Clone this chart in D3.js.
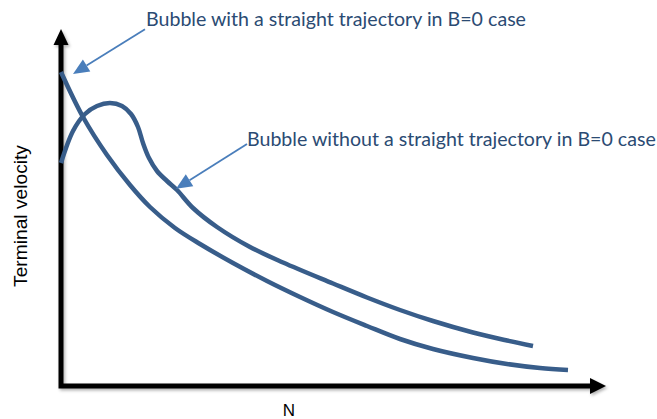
<!DOCTYPE html>
<html>
<head>
<meta charset="utf-8">
<script src="https://cdn.jsdelivr.net/npm/d3@7/dist/d3.min.js"></script>
<style>
  html, body { margin: 0; padding: 0; background: #fff; }
  svg { display: block; }
</style>
</head>
<body>
<svg id="chart" width="657" height="419"></svg>
<script>
// ---- Data (N in arbitrary units, terminal velocity in arbitrary units) ----
const straightN = [0, 4.4, 9.2, 13.8, 17.8, 22.8, 27.8, 34.4, 41.2, 47.8, 54.4, 61.2, 67.8, 74.4, 82.4, 89.2, 95.8, 101.4];
const straightV = [78.5, 67.25, 57.75, 50.25, 44.75, 39.5, 35.5, 30.75, 26.25, 22.25, 18.5, 15, 11.75, 9.25, 7, 5.5, 4.5, 4];

const curvedN = [0, 2.4, 4.8, 7.2, 9.8, 12.2, 14, 15.4, 16.4, 17.6, 19.2, 21.2, 23.2, 26.4, 31.2, 37.8, 44.4, 54.4, 61.2, 67.8, 74.4, 82.4, 89.2, 94.4];
const curvedV = [55.75, 63.75, 68, 70, 70.75, 70, 68, 64.75, 60.75, 57, 53.75, 51.25, 49, 44.5, 39.75, 34.75, 30.875, 25.625, 22.125, 19, 16.25, 13.375, 11.375, 10];

const xLabel = "N";
const yLabel = "Terminal velocity";
const annotationTexts = ["Bubble with a straight trajectory in B=0 case",
                         "Bubble without a straight trajectory in B=0 case"];
// annotation anchor points in data units: [textN, textV, arrowStartN, arrowStartV, tipN, tipV]
const annotationAnchors = [[17, 90, 16.8, 89.2, 2.4, 78],
                           [37.2, 60.1, 37.2, 60.5, 23, 49.3]];
const annotationWidths = [380, 409];

// ---- Layout ----
const svg = d3.select("#chart");
const x = d3.scaleLinear().domain([0, 109]).range([61, 606]);
const y = d3.scaleLinear().domain([0, 89]).range([386, 30]);

const curveColor = "#385d8a";
const arrowColor = "#4a7ebb";
const textColor = "#2b4b73";

const defs = svg.append("defs");
const f = defs.append("filter").attr("id", "shadow")
  .attr("x", "-10%").attr("y", "-10%").attr("width", "130%").attr("height", "130%");
f.append("feDropShadow").attr("dx", 1.5).attr("dy", 2).attr("stdDeviation", 1.6)
  .attr("flood-color", "#000").attr("flood-opacity", 0.3);

// ---- Axes with arrowheads ----
const axes = svg.append("g").attr("filter", "url(#shadow)");
const x0 = x(0), y0 = y(0), xEnd = x(109), yEnd = y(89);
axes.append("path")
  .attr("d", `M${x0},${yEnd + 14} L${x0},${y0} L${xEnd - 15},${y0}`)
  .attr("fill", "none").attr("stroke", "#000").attr("stroke-width", 5)
  .attr("stroke-linejoin", "miter").attr("stroke-linecap", "square");
axes.append("path")
  .attr("d", `M${x0},${yEnd - 1} L${x0 + 7.5},${yEnd + 15} L${x0 - 7.5},${yEnd + 15} Z`)
  .attr("fill", "#000");
axes.append("path")
  .attr("d", `M${xEnd},${y0} L${xEnd - 16},${y0 - 8} L${xEnd - 16},${y0 + 8} Z`)
  .attr("fill", "#000");

// ---- Curves ----
const line = d3.line().x(d => x(d[0])).y(d => y(d[1])).curve(d3.curveCatmullRom.alpha(0.5));
const series = [d3.zip(straightN, straightV), d3.zip(curvedN, curvedV)];
svg.append("g").selectAll("path").data(series).join("path")
  .attr("d", line)
  .attr("fill", "none").attr("stroke", curveColor).attr("stroke-width", 4.5)
  .attr("stroke-linecap", "butt").attr("stroke-linejoin", "round");

// ---- Axis labels ----
function fit(sel, target) {
  const w = sel.node().getComputedTextLength();
  const fs = parseFloat(sel.attr("font-size"));
  sel.attr("font-size", fs * target / w);
}
const yl = svg.append("text").text(yLabel)
  .attr("transform", "translate(27,216) rotate(-90)")
  .attr("text-anchor", "middle")
  .attr("font-family", "Liberation Sans, Arial, sans-serif")
  .attr("font-size", 16).attr("fill", "#000");
fit(yl, 142);
svg.append("text").text(xLabel)
  .attr("x", 289).attr("y", 416)
  .attr("text-anchor", "middle")
  .attr("font-family", "Liberation Sans, Arial, sans-serif")
  .attr("font-size", 17).attr("fill", "#000");

// ---- Annotations ----
const ann = svg.append("g");
annotationTexts.forEach((t, i) => {
  const [tn, tv, sn, sv, pn, pv] = annotationAnchors[i];
  const sx = x(sn), sy = y(sv), px = x(pn), py = y(pv);
  const ang = Math.atan2(py - sy, px - sx);
  const hl = 16, hw = 7;
  const bx = px - hl * Math.cos(ang), by = py - hl * Math.sin(ang);
  ann.append("line")
    .attr("x1", sx).attr("y1", sy).attr("x2", bx).attr("y2", by)
    .attr("stroke", arrowColor).attr("stroke-width", 1.8);
  ann.append("path")
    .attr("d", `M${px},${py} L${bx + hw * Math.sin(ang)},${by - hw * Math.cos(ang)} L${bx - hw * Math.sin(ang)},${by + hw * Math.cos(ang)} Z`)
    .attr("fill", arrowColor);
  const tx = ann.append("text").text(t)
    .attr("x", x(tn)).attr("y", y(tv))
    .attr("font-family", "Lato, 'Open Sans', sans-serif")
    .attr("font-size", 18).attr("fill", textColor);
  fit(tx, annotationWidths[i]);
});
</script>
</body>
</html>
